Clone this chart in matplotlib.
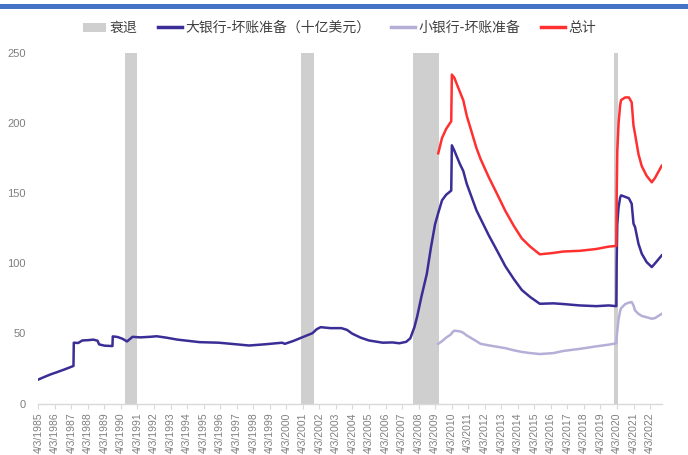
import matplotlib
matplotlib.use("Agg")
import matplotlib.pyplot as plt
import matplotlib.dates as mdates
from matplotlib.patches import Patch, Rectangle
from matplotlib.lines import Line2D
import numpy as np
import pandas as pd

# Large banks, loan-loss reserves (USD bn), 1985 to mid-2009
pre_dates = [
    "1985-04-03", "1985-09-01", "1986-01-01", "1986-06-01", "1986-11-01",
    "1987-03-01", "1987-05-20", "1987-05-27", "1987-09-01", "1987-12-01",
    "1988-04-01", "1988-08-01", "1988-11-01", "1988-12-07", "1989-04-01",
    "1989-09-27", "1989-10-04", "1990-01-15", "1990-05-01", "1990-08-15",
    "1990-12-15", "1991-06-01", "1992-01-01", "1992-06-01", "1993-01-01",
    "1993-09-01", "1994-06-01", "1995-01-01", "1996-03-01", "1997-01-01",
    "1998-01-01", "1999-01-01", "2000-01-01", "2000-03-01", "2000-09-01",
    "2001-04-01", "2001-11-01", "2002-02-01", "2002-05-01", "2002-12-01",
    "2003-08-01", "2003-12-01", "2004-04-01", "2004-10-01", "2005-04-01",
    "2006-02-01", "2006-09-01", "2007-02-01", "2007-07-01", "2007-10-01",
    "2008-01-01", "2008-03-01", "2008-06-01", "2008-10-01", "2009-01-01",
    "2009-04-01",
]
pre_big = [
    17.1, 19.2, 20.8, 22.5, 24.3,
    25.8, 26.8, 43.4, 43.2, 45.0,
    45.2, 45.6, 44.8, 42.2, 41.3,
    41.0, 47.9, 47.5, 46.3, 44.3,
    47.6, 47.2, 47.6, 48.0, 47.0,
    45.6, 44.6, 43.8, 43.4, 42.5,
    41.4, 42.3, 43.4, 42.6, 44.6,
    47.4, 50.2, 53.0, 54.5, 53.8,
    53.8, 52.6, 49.8, 47.0, 45.0,
    43.4, 43.6, 43.0, 44.0, 46.5,
    54.5, 62.0, 75.9, 92.6, 111.6,
    128.0,
]

# Large and small banks from mid-2009 onward
post_dates = [
    "2009-06-10", "2009-09-01", "2009-12-01", "2010-03-24", "2010-04-07",
    "2010-06-01", "2010-10-01", "2010-12-15", "2011-03-01", "2011-10-01",
    "2012-01-01", "2012-07-01", "2013-01-01", "2013-07-01", "2014-01-01",
    "2014-07-01", "2015-01-01", "2015-08-01", "2016-06-01", "2017-01-01",
    "2018-01-01", "2019-01-01", "2019-10-01", "2020-03-18", "2020-03-25",
    "2020-04-08", "2020-05-06", "2020-06-10", "2020-07-01", "2020-10-01",
    "2020-12-20", "2021-02-20", "2021-04-01", "2021-05-05", "2021-07-20",
    "2021-10-01", "2022-01-15", "2022-05-10", "2022-07-20", "2022-12-15",
]
post_big = [
    136.0, 145.0, 149.0, 152.0, 184.3,
    180.5, 171.0, 166.0, 156.9, 138.0,
    131.9, 120.0, 109.0, 98.0, 89.0,
    81.0, 76.0, 71.2, 71.5, 71.0,
    70.0, 69.5, 70.0, 69.5, 100.0,
    128.0, 140.0, 147.0, 148.6, 147.5,
    146.5, 142.6, 128.4, 126.0, 114.0,
    106.9, 101.0, 97.4, 100.0, 105.7,
]
post_small = [
    42.6, 44.5, 47.0, 49.5, 50.5,
    52.0, 51.5, 50.5, 48.6, 44.5,
    42.6, 41.5, 40.5, 39.5, 38.0,
    36.8, 36.0, 35.3, 36.0, 37.5,
    39.0, 40.8, 42.0, 43.0, 47.0,
    52.0, 60.0, 66.0, 68.0, 71.0,
    72.0, 72.4, 70.0, 66.4, 64.0,
    62.5, 61.6, 60.5, 61.0, 64.0,
]

# NBER recessions
recessions = [
    ("1990-07-01", "1991-03-31"),
    ("2001-03-01", "2001-11-30"),
    ("2007-12-01", "2009-06-30"),
    ("2020-02-01", "2020-04-30"),
]

tick_years = list(range(1985, 2023))
tick_labels = [f"4/3/{y}" for y in tick_years]

legend_labels = ["衰退", "大银行-坏账准备（十亿美元）", "小银行-坏账准备", "总计"]

c_rec = "#D0CFCF"
c_big = "#3A2E96"
c_small = "#B5AFD8"
c_total = "#FF3030"
c_text = "#7F7F7F"

big_dates = pd.to_datetime(pre_dates + post_dates)
big_vals = np.array(pre_big + post_big)
p_dates = pd.to_datetime(post_dates)
small_vals = np.array(post_small)
total_vals = np.array(post_big) + small_vals

fig = plt.figure(figsize=(6.88, 4.55), dpi=100)
fig.patches.append(Rectangle((0, 1 - 9 / 455), 1, 5 / 455, transform=fig.transFigure,
                             facecolor="#4472C4", edgecolor="none", zorder=0))

ax = fig.add_axes([38.3 / 688, (455 - 403.5) / 455, (661.7 - 38.3) / 688, (403.5 - 53.3) / 455])

for s, e in recessions:
    ax.axvspan(pd.Timestamp(s), pd.Timestamp(e), color=c_rec, lw=0, zorder=1)

lw = 1.8
ax.plot(p_dates, small_vals, color=c_small, lw=lw, zorder=2)
ax.plot(big_dates, big_vals, color=c_big, lw=lw, zorder=3)
ax.plot(p_dates, total_vals, color=c_total, lw=lw, zorder=4)

ax.set_xlim(pd.Timestamp("1985-04-03"), pd.Timestamp("2022-12-15"))
ax.set_ylim(0, 250)
ax.set_yticks([0, 50, 100, 150, 200, 250])
ax.set_xticks(pd.to_datetime([f"{y}-04-03" for y in tick_years]))
ax.set_xticklabels(tick_labels, rotation=90, fontsize=7.5, color=c_text,
                   family="Liberation Sans")
for lab in ax.get_yticklabels():
    lab.set_fontsize(8)
    lab.set_color(c_text)
    lab.set_family("Liberation Sans")

for side in ("top", "right", "left"):
    ax.spines[side].set_visible(False)
ax.spines["bottom"].set_color("#D9D9D9")
ax.spines["bottom"].set_linewidth(1.0)
ax.tick_params(axis="x", length=3.5, color="#D9D9D9", pad=3)
ax.tick_params(axis="y", length=0, pad=9)

handles = [
    Patch(facecolor=c_rec, edgecolor="none"),
    Line2D([], [], color=c_big, lw=2.5),
    Line2D([], [], color=c_small, lw=2.5),
    Line2D([], [], color=c_total, lw=2.5),
]
leg = fig.legend(handles, legend_labels, loc="center", bbox_to_anchor=(0.493, 1 - 28 / 455),
                 ncol=4, frameon=False, handlelength=1.7, handleheight=0.6,
                 handletextpad=0.25, columnspacing=1.5,
                 prop={"family": ["Noto Sans CJK SC", "DejaVu Sans"], "size": 10})
for t in leg.get_texts():
    t.set_color("#404040")

fig.savefig("out.png", dpi=100)
